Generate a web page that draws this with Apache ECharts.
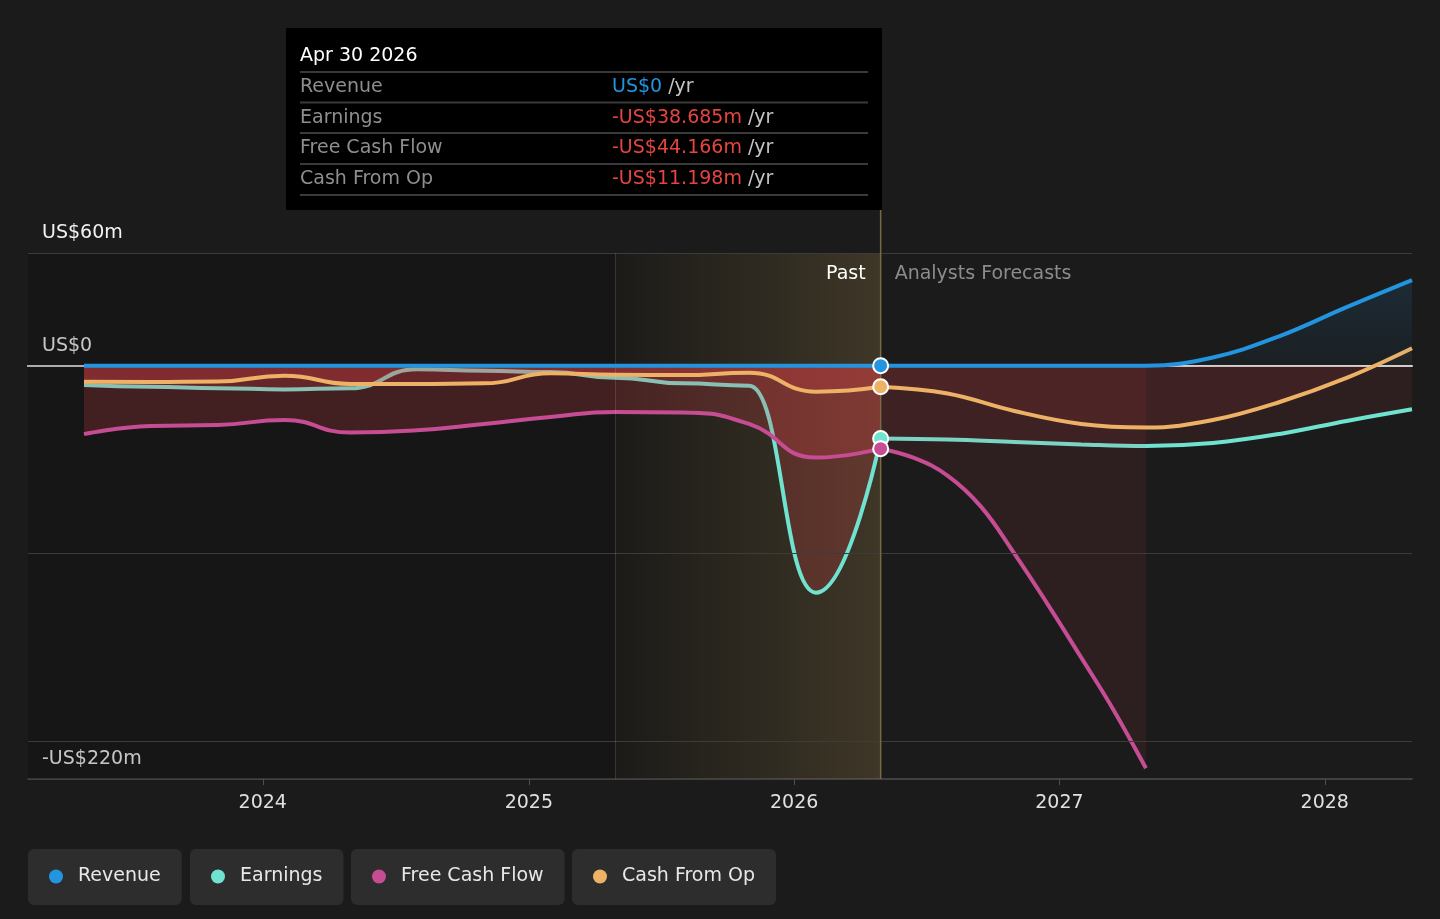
<!DOCTYPE html>
<html>
<head>
<meta charset="utf-8">
<title>Revenue, Earnings and Cash Flow</title>
<script src="https://cdn.jsdelivr.net/npm/echarts@6.0.0/dist/echarts.min.js"></script>
<style>
    html, body { margin: 0; padding: 0; background: #1b1b1b; }
    #chart { width: 1440px; height: 919px; }
</style>
</head>
<body>
<div id="chart"></div>
<script>
// past figures, trailing twelve months, US$m
var pastDates = ['2023-04-30', '2023-07-31', '2023-10-31', '2024-01-31', '2024-04-30', '2024-07-31',
    '2024-10-31', '2025-01-31', '2025-04-30', '2025-07-31', '2025-10-31', '2026-01-31', '2026-04-30'];
var pastRevenue = [0, 0, 0, 0, 0, 0, 0, 0, 0, 0, 0, 0, 0];
var pastEarnings = [-10.3, -11.2, -12.0, -12.6, -12.0, -1.9, -2.7, -3.4, -6.4, -9.4, -10.6, -120.8, -38.685];
var pastFreeCashFlow = [-36.4, -32.1, -31.6, -28.9, -35.6, -34.4, -31.0, -27.3, -24.6, -24.9, -31.0, -48.9, -44.166];
var pastCashFromOp = [-8.5, -8.7, -8.4, -5.3, -9.7, -9.7, -9.4, -4.0, -4.8, -5.0, -3.7, -13.8, -11.198];

// analysts forecasts, US$m
var forecastDates = ['2026-04-30', '2026-07-31', '2026-10-31', '2027-01-31', '2027-04-30',
    '2027-07-31', '2027-10-31', '2028-01-31', '2028-04-30'];
var forecastRevenue = [0, 0, 0, 0, 0, 4.4, 15.8, 31.2, 45.6];
var forecastEarnings = [-38.685, -39.3, -40.6, -41.9, -42.7, -41.1, -36.3, -29.4, -23.2];
var forecastCashFromOp = [-11.198, -14.8, -24.1, -31.0, -32.9, -28.9, -19.3, -6.5, 9.3];
var forecastFcfDates = ['2026-04-30', '2026-06-15', '2026-07-31', '2026-09-15', '2026-10-31',
    '2026-12-15', '2027-01-31', '2027-03-15', '2027-04-30'];
var forecastFreeCashFlow = [-44.166, -49.1, -58.5, -75.0, -100, -126.5, -155.4, -182.3, -214.3];

// axes
var yTicks = [60, 0, -220];
var yGridLines = [60, -100, -200];
var xTicks = ['2024-01-01', '2025-01-01', '2026-01-01', '2027-01-01', '2028-01-01'];
var xMin = '2023-02-12';
var xMax = '2028-04-30';
var yMin = -220;
var yMax = 60;
var lastYearStart = '2025-04-30';

var FONT = "'DejaVu Sans', sans-serif";
var GRID_TOP = 253;
var GRID_BOTTOM = 140;
var GRID_H = 919 - GRID_TOP - GRID_BOTTOM;
var NEG = '#e64148';
var colors = {
    revenue: '#2394df',
    earnings: '#6fe3d0',
    fcf: '#c64d94',
    cfo: '#eeb266'
};
var MONTHS = ['Jan', 'Feb', 'Mar', 'Apr', 'May', 'Jun', 'Jul', 'Aug', 'Sep', 'Oct', 'Nov', 'Dec'];

// dates are kept as UTC timestamps on a value axis
function ts(s) {
    return new Date(s + 'T00:00:00Z').getTime();
}

function zip(dates, values) {
    var out = [];
    for (var i = 0; i < values.length; i++) {
        out.push([ts(dates[i]), values[i]]);
    }
    return out;
}

function last(arr) {
    return arr[arr.length - 1];
}

function rgba(hex, a) {
    var n = parseInt(hex.slice(1), 16);
    return 'rgba(' + (n >> 16 & 255) + ',' + (n >> 8 & 255) + ',' + (n & 255) + ',' + a + ')';
}

// area above zero keeps the series colour, below zero turns red
function areaFill(hex, negAlpha) {
    var zf = yMax / (yMax - yMin);
    return new echarts.graphic.LinearGradient(0, GRID_TOP, 0, GRID_TOP + GRID_H, [
        {offset: 0, color: rgba(hex, 0.24)},
        {offset: zf, color: rgba(hex, 0.05)},
        {offset: zf, color: rgba(NEG, negAlpha)},
        {offset: 1, color: rgba(NEG, negAlpha)}
    ], true);
}

// z per metric so that a later area lies over an earlier line
function lineSeries(name, color, dates, values, past, z, monotone) {
    var s = {
        name: name,
        type: 'line',
        xAxisIndex: 0,
        yAxisIndex: 0,
        data: zip(dates, values),
        symbol: 'none',
        smooth: past ? 0.5 : 0.4,
        lineStyle: {color: color, width: 4},
        itemStyle: {color: color},
        areaStyle: {color: areaFill(color, past ? 0.3 : 0.13)},
        emphasis: {disabled: true},
        silent: true,
        z: z
    };
    if (monotone) {
        s.smoothMonotone = 'x';
    }
    return s;
}

function money(v) {
    if (v === 0) return 'US$0';
    var s = 'US$' + Math.abs(v).toFixed(3) + 'm';
    return v < 0 ? '-' + s : s;
}

function yLabel(v) {
    if (v === 0) return 'US$0';
    return v < 0 ? '-US$' + (-v) + 'm' : 'US$' + v + 'm';
}

var pastEnd = last(pastDates);
var xTickValues = xTicks.map(ts);

var earningsPast = lineSeries('Earnings', colors.earnings, pastDates, pastEarnings, true, 2, true);
earningsPast.markArea = {
    silent: true,
    data: [
        [{xAxis: ts(xMin), itemStyle: {color: 'rgba(0,0,0,0.18)'}, label: {show: false}}, {xAxis: ts(pastEnd)}],
        [{
            xAxis: ts(lastYearStart),
            itemStyle: {
                color: new echarts.graphic.LinearGradient(0, 0, 1, 0, [
                    {offset: 0, color: 'rgba(205,170,100,0.03)'},
                    {offset: 1, color: 'rgba(205,170,100,0.22)'}
                ])
            },
            label: {
                show: true, formatter: 'Past', position: 'insideTopRight', distance: 0, offset: [-15, 12],
                color: '#ffffff', fontSize: 19, fontFamily: FONT
            }
        }, {xAxis: ts(pastEnd)}],
        [{
            xAxis: ts(pastEnd),
            itemStyle: {color: 'rgba(0,0,0,0)'},
            label: {
                show: true, formatter: 'Analysts Forecasts', position: 'insideTopLeft', distance: 0, offset: [14, 12],
                color: '#8c8c8c', fontSize: 19, fontFamily: FONT
            }
        }, {xAxis: ts(xMax)}]
    ]
};
earningsPast.markLine = {
    silent: true,
    symbol: ['none', 'none'],
    label: {show: false},
    data: yGridLines.map(function (v) {
        return {yAxis: v, lineStyle: {color: '#3c3c3c', width: 1, type: 'solid'}};
    }).concat([
        {xAxis: ts(lastYearStart), lineStyle: {color: 'rgba(230,210,160,0.16)', width: 1, type: 'solid'}}
    ])
};

var series = [
    earningsPast,
    lineSeries('Earnings', colors.earnings, forecastDates, forecastEarnings, false, 2, false),
    lineSeries('Free Cash Flow', colors.fcf, pastDates, pastFreeCashFlow, true, 3, false),
    lineSeries('Free Cash Flow', colors.fcf, forecastFcfDates, forecastFreeCashFlow, false, 3, false),
    lineSeries('Cash From Op', colors.cfo, pastDates, pastCashFromOp, true, 4, true),
    lineSeries('Cash From Op', colors.cfo, forecastDates, forecastCashFromOp, false, 4, false),
    lineSeries('Revenue', colors.revenue, pastDates, pastRevenue, true, 5, true),
    lineSeries('Revenue', colors.revenue, forecastDates, forecastRevenue, false, 5, false),
    {
        type: 'scatter',
        z: 10,
        silent: true,
        symbolSize: 15,
        itemStyle: {borderColor: '#ffffff', borderWidth: 2, opacity: 1},
        data: [
            {value: [ts(pastEnd), last(pastRevenue)], itemStyle: {color: colors.revenue}},
            {value: [ts(pastEnd), last(pastCashFromOp)], itemStyle: {color: colors.cfo}},
            {value: [ts(pastEnd), last(pastEarnings)], itemStyle: {color: colors.earnings}},
            {value: [ts(pastEnd), last(pastFreeCashFlow)], itemStyle: {color: colors.fcf}}
        ]
    }
];

var legendNames = ['Revenue', 'Earnings', 'Free Cash Flow', 'Cash From Op'];
var legendLeft = [28, 190, 351, 572];

var chart = echarts.init(document.getElementById('chart'));
chart.setOption({
    backgroundColor: '#1b1b1b',
    animation: false,
    tooltip: {show: false},
    grid: {
        left: 28,
        right: 28,
        top: GRID_TOP,
        bottom: GRID_BOTTOM,
        containLabel: false,
        outerBoundsMode: 'none'
    },
    legend: legendNames.map(function (name, i) {
        return {
            data: [name],
            left: legendLeft[i],
            top: 849,
            icon: 'circle',
            itemWidth: 14,
            itemHeight: 14,
            selectedMode: false,
            padding: [18, 21, 19, 21],
            backgroundColor: '#2d2d2d',
            borderRadius: 6,
            formatter: '{t|{name}}',
            textStyle: {
                rich: {
                    t: {color: '#e8e8e8', fontSize: 19, fontFamily: FONT, lineHeight: 22, padding: [0, 0, 0, 10]}
                }
            }
        };
    }),
    xAxis: [
        {
            type: 'value',
            min: ts(xMin),
            max: ts(xMax),
            position: 'bottom',
            axisLine: {onZero: false, lineStyle: {color: '#4f4f4f', width: 1.5}},
            axisTick: {show: true, customValues: xTickValues, length: 6, lineStyle: {color: '#4f4f4f'}},
            splitLine: {show: false},
            axisLabel: {
                customValues: xTickValues,
                margin: 15,
                color: '#e0e0e0',
                fontSize: 19,
                fontFamily: FONT,
                formatter: function (v) {
                    return String(new Date(v).getUTCFullYear());
                }
            }
        },
        {
            // zero line
            type: 'value',
            min: ts(xMin),
            max: ts(xMax),
            position: 'top',
            axisLine: {show: true, onZero: true, lineStyle: {color: '#d4d4d4', width: 2}},
            axisTick: {show: false},
            axisLabel: {show: false},
            splitLine: {show: false}
        }
    ],
    yAxis: {
        type: 'value',
        min: yMin,
        max: yMax,
        axisLine: {show: false},
        axisTick: {show: false},
        splitLine: {show: false},
        axisLabel: {
            customValues: yTicks,
            inside: true,
            margin: 14,
            align: 'left',
            verticalAlign: 'bottom',
            padding: [0, 0, 10, 0],
            color: '#f2f2f2',
            fontSize: 19,
            fontFamily: FONT,
            formatter: yLabel
        }
    },
    series: series
});

// tooltip box for the last reported period
var px = chart.convertToPixel({xAxisIndex: 0}, ts(pastEnd));
var d = new Date(ts(pastEnd));
var tipTitle = MONTHS[d.getUTCMonth()] + ' ' + d.getUTCDate() + ' ' + d.getUTCFullYear();
var tipRows = [
    ['Revenue', last(pastRevenue)],
    ['Earnings', last(pastEarnings)],
    ['Free Cash Flow', last(pastFreeCashFlow)],
    ['Cash From Op', last(pastCashFromOp)]
];
var boxW = 596;
var boxL = Math.round(px) + 1 - boxW;
var sepY = [72, 102.5, 133, 164, 195];
var rowY = [87.5, 118, 148.5, 179];

var elements = [
    {
        type: 'line', z: 6, silent: true,
        shape: {x1: px, y1: 210, x2: px, y2: GRID_TOP + GRID_H},
        style: {stroke: '#7a6944', lineWidth: 1.5}
    },
    {
        type: 'rect', z: 20, silent: true,
        shape: {x: boxL, y: 28, width: boxW, height: 182},
        style: {fill: '#000000'}
    },
    {
        type: 'text', z: 21, silent: true, x: boxL + 14, y: 56,
        style: {text: tipTitle, fill: '#ffffff', font: '19px ' + FONT, verticalAlign: 'middle'}
    }
];
sepY.forEach(function (y) {
    elements.push({
        type: 'line', z: 21, silent: true,
        shape: {x1: boxL + 14, y1: y, x2: boxL + boxW - 14, y2: y},
        style: {stroke: '#3a3a3a', lineWidth: 2}
    });
});
tipRows.forEach(function (row, i) {
    elements.push({
        type: 'text', z: 21, silent: true, x: boxL + 14, y: rowY[i],
        style: {text: row[0], fill: '#8e8e8e', font: '19px ' + FONT, verticalAlign: 'middle'}
    });
    elements.push({
        type: 'text', z: 21, silent: true, x: boxL + 326, y: rowY[i],
        style: {
            text: '{v|' + money(row[1]) + '} {u|/yr}',
            font: '19px ' + FONT,
            verticalAlign: 'middle',
            rich: {
                v: {fill: row[1] < 0 ? '#e5453f' : colors.revenue, font: '19px ' + FONT},
                u: {fill: '#c4c4c4', font: '19px ' + FONT}
            }
        }
    });
});

chart.setOption({graphic: {elements: elements}});
</script>
</body>
</html>
